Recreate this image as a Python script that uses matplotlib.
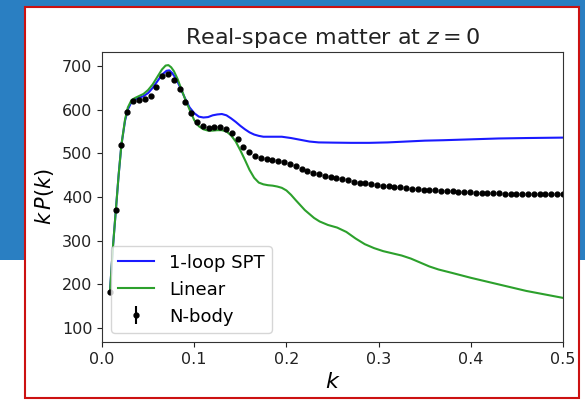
import matplotlib
matplotlib.use("Agg")
import matplotlib.pyplot as plt
from matplotlib.patches import Rectangle

################################################################################
#Data
################################################################################
k_nbody = [0.0085, 0.0148, 0.0211, 0.0274, 0.0337, 0.0400, 0.0463, 0.0526,
           0.0589, 0.0652, 0.0715, 0.0778, 0.0841, 0.0904, 0.0967, 0.1030,
           0.1093, 0.1156, 0.1219, 0.1282, 0.1345, 0.1408, 0.1471, 0.1534,
           0.1597, 0.1660, 0.1723, 0.1786, 0.1849, 0.1912, 0.1975, 0.2038,
           0.2101, 0.2164, 0.2227, 0.2290, 0.2353, 0.2416, 0.2479, 0.2542,
           0.2605, 0.2668, 0.2731, 0.2794, 0.2857, 0.2920, 0.2983, 0.3046,
           0.3109, 0.3172, 0.3235, 0.3298, 0.3361, 0.3424, 0.3487, 0.3550,
           0.3613, 0.3676, 0.3739, 0.3802, 0.3865, 0.3928, 0.3991, 0.4054,
           0.4117, 0.4180, 0.4243, 0.4306, 0.4369, 0.4432, 0.4495, 0.4558,
           0.4621, 0.4684, 0.4747, 0.4810, 0.4873, 0.4936, 0.4999]
kp_nbody = [183, 370, 519, 595, 620, 621, 625, 632,
            653, 676, 682, 669, 647, 618, 592, 572,
            562, 558, 561, 561, 555, 546, 532, 515,
            502, 494, 490, 487, 485, 482, 479, 475,
            470, 465, 460, 455, 452, 449, 446, 444,
            441, 438, 435, 433, 431, 429, 428, 426,
            425, 424, 423, 421, 419, 418, 416, 415,
            415, 414, 414, 413, 412, 412, 411, 410,
            409, 409, 409, 409, 408, 408, 408, 408,
            408, 408, 408, 408, 408, 408, 408]
nbody_err = 2.0

k_spt = [0.0085, 0.012, 0.015, 0.018, 0.021, 0.025, 0.028, 0.032, 0.036,
         0.040, 0.045, 0.050, 0.055, 0.060, 0.065, 0.070, 0.073, 0.076,
         0.080, 0.085, 0.090, 0.095, 0.100, 0.105, 0.110, 0.115, 0.120,
         0.125, 0.130, 0.135, 0.140, 0.145, 0.150, 0.155, 0.160, 0.165,
         0.170, 0.175, 0.185, 0.195, 0.205, 0.215, 0.225, 0.235, 0.250,
         0.270, 0.290, 0.310, 0.330, 0.350, 0.370, 0.400, 0.430, 0.460, 0.500]
kp_spt = [180, 290, 370, 450, 519, 575, 600, 618, 624,
          627, 631, 638, 650, 665, 680, 689, 690, 684,
          672, 650, 626, 605, 592, 584, 582, 583, 587,
          589, 590, 587, 580, 572, 563, 555, 548, 543,
          540, 538, 538, 538, 535, 531, 527, 525, 524.5,
          524, 524, 525, 527, 529, 530, 532, 534, 535, 536]

k_lin = [0.0085, 0.012, 0.015, 0.018, 0.021, 0.025, 0.028, 0.032, 0.036,
         0.040, 0.045, 0.050, 0.055, 0.060, 0.065, 0.069, 0.072, 0.075,
         0.078, 0.082, 0.086, 0.090, 0.095, 0.100, 0.105, 0.110, 0.115,
         0.120, 0.125, 0.130, 0.135, 0.140, 0.145, 0.150, 0.155, 0.160,
         0.165, 0.170, 0.175, 0.180, 0.185, 0.190, 0.195, 0.200, 0.205,
         0.210, 0.220, 0.230, 0.236, 0.245, 0.255, 0.265, 0.275, 0.285,
         0.295, 0.305, 0.315, 0.325, 0.335, 0.345, 0.355, 0.365, 0.380,
         0.400, 0.420, 0.440, 0.460, 0.480, 0.500]
kp_lin = [180, 290, 370, 450, 519, 578, 605, 622, 627,
          631, 636, 645, 658, 675, 692, 701, 702, 697,
          688, 670, 647, 625, 600, 576, 562, 555, 552,
          552, 553, 553, 550, 541, 527, 507, 485, 462,
          444, 433, 429, 427, 426, 424, 421, 415, 405,
          393, 370, 352, 344, 336, 330, 320, 305, 292,
          283, 276, 271, 266, 259, 250, 241, 234, 226,
          215, 205, 195, 185, 177, 169]

################################################################################
#Slide background + framed box
################################################################################
fig = plt.figure(figsize=(5.85, 4.0), dpi=100)
fig.patch.set_facecolor("white")
fig.patches.append(Rectangle((0, 0.35), 1, 0.65, transform=fig.transFigure,
                             facecolor="#2a7fc2", edgecolor="none", zorder=-3))
fig.patches.append(Rectangle((0.043, 0.005), 0.947, 0.9775, transform=fig.transFigure,
                             facecolor="white", edgecolor="#cc1111", linewidth=1.5,
                             zorder=-2))

################################################################################
#Power spectrum plot
################################################################################
ax = fig.add_axes([0.1744, 0.145, 0.788, 0.725])
ax.plot(k_spt, kp_spt, color="#1a1aff", lw=1.5, label="1-loop SPT")
ax.plot(k_lin, kp_lin, color="#2ca02c", lw=1.5, label="Linear")
ax.errorbar(k_nbody, kp_nbody, yerr=nbody_err, fmt="o", color="k", ms=3.5,
            label="N-body")
ax.set_xlim(0, 0.5)
ax.set_ylim(68, 732)
ax.set_xticks([0.0, 0.1, 0.2, 0.3, 0.4, 0.5])
ax.set_yticks([100, 200, 300, 400, 500, 600, 700])
ax.tick_params(labelsize=11.5, colors="#222222")
for s in ax.spines.values():
    s.set_color("#333333")
ax.set_xlabel("$k$", fontsize=16)
ax.set_ylabel("$k\\,P(k)$", fontsize=15)
ax.set_title("Real-space matter at $z=0$", fontsize=16, color="#222222")
ax.legend(loc="lower left", fontsize=13)

fig.savefig("out.png", dpi=100)
